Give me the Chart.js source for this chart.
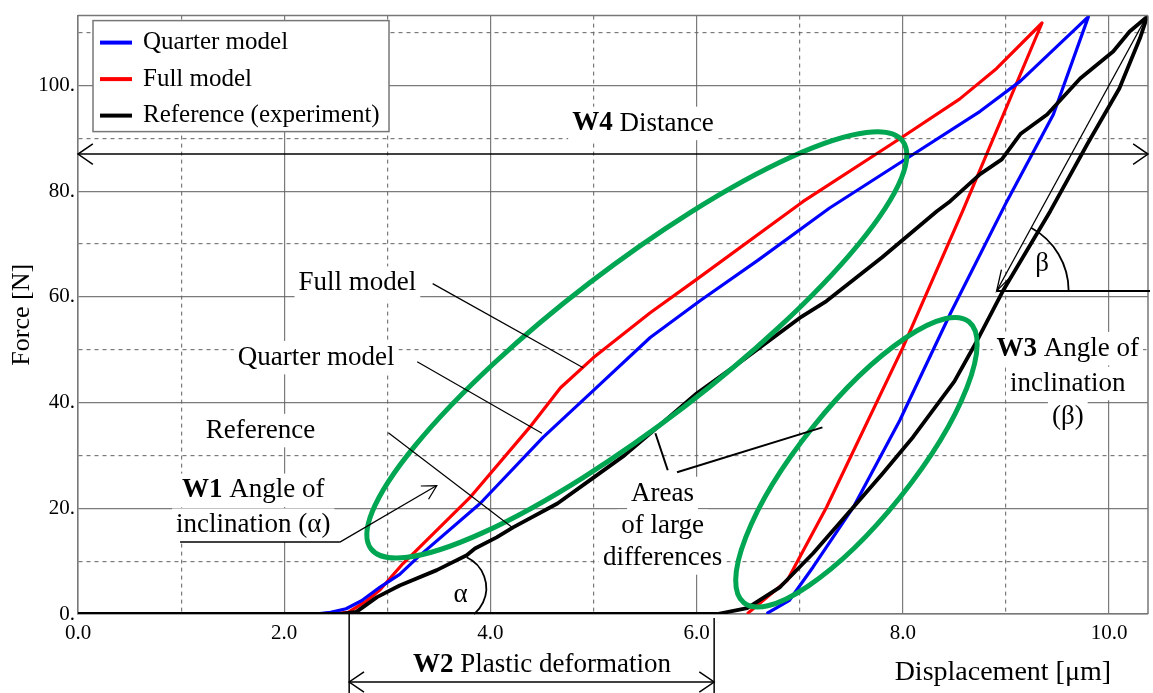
<!DOCTYPE html>
<html>
<head>
<meta charset="utf-8">
<script src="https://cdn.jsdelivr.net/npm/chart.js@4.4.1/dist/chart.umd.min.js"></script>
<style>
  html, body { margin: 0; padding: 0; background: #fff; }
</style>
</head>
<body>
<canvas id="chart" width="1153" height="693"></canvas>
<script>
// series names (legend order)
const seriesNames = ['Quarter model', 'Full model', 'Reference (experiment)'];

// Quarter model: loading then unloading
const quarterX = [0, 2.3, 2.45, 2.6, 2.75, 2.93, 3.12, 3.3, 3.9, 4.51, 5.0, 5.55, 6.03, 6.6, 7.29, 8.0, 8.75, 9.14, 9.8,
                  9.46, 9.01, 8.46, 7.97, 7.52, 7.13, 6.9, 6.69];
const quarterY = [0, 0, 0.3, 1.0, 2.5, 5.1, 7.5, 10.8, 20.9, 33.4, 42.3, 52.3, 59.2, 67.0, 76.8, 85.7, 95.1, 100.8, 113.0,
                  94.5, 78.1, 56.8, 36.6, 20.2, 8.9, 2.6, 0.2];

// Full model
const fullX = [0, 2.45, 2.62, 2.8, 2.93, 3.15, 3.8, 4.38, 4.68, 5.0, 5.55, 6.0, 7.03, 7.97, 8.55, 8.91, 9.35,
               8.58, 8.0, 7.26, 6.88, 6.5];
const fullY = [0, 0, 0.3, 2.5, 4.6, 9.5, 22.0, 35.3, 42.8, 48.5, 57.0, 63.3, 78.0, 89.9, 97.4, 103.2, 111.8,
               76.2, 50.4, 20.2, 6.4, 0.2];

// Reference (experiment)
const refX = [0, 2.55, 2.7, 2.9, 3.12, 3.48, 3.77, 3.85, 4.06, 4.22, 4.65, 5.0, 5.3, 5.6, 6.0, 6.35, 7.0, 7.26, 7.8,
              8.33, 8.46, 8.75, 8.96, 9.14, 9.4, 9.72, 10.04, 10.2, 10.37,
              10.3, 10.1, 9.79, 9.43, 8.97, 8.72, 8.5, 8.1, 7.8, 7.52, 7.13, 6.81, 6.49, 6.2, 2.6];
const refY = [0, 0, 0.4, 3.2, 5.4, 8.3, 11.1, 12.4, 14.5, 16.4, 20.9, 25.8, 30.0, 35.0, 41.7, 46.6, 56.0, 59.2, 67.5,
              76.2, 78.1, 83.2, 86.0, 90.8, 94.5, 101.3, 106.4, 110.2, 113.0,
              108.9, 99.4, 88.9, 76.2, 61.1, 51.7, 44.0, 33.5, 26.5, 20.2, 11.5, 5.1, 1.1, 0, 0];

const xTickValues = [0, 2, 4, 6, 8, 10];
const yTickValues = [0, 20, 40, 60, 80, 100];

const seriesColors = ['#0000ff', '#ff0000', '#000000'];
const FAMILY = '"Liberation Serif", "Times New Roman", serif';
const GREEN = '#00a651';

function pts(xs, ys) { return xs.map((x, i) => ({ x: x, y: ys[i] })); }
function font(size, bold) { return (bold ? 'bold ' : '') + size + 'px ' + FAMILY; }

function richWidth(ctx, parts, size) {
    let w = 0;
    parts.forEach(p => { ctx.font = font(size, p.b); w += ctx.measureText(p.t).width; });
    return w;
}
function drawRich(ctx, parts, cx, cy, size, bg) {
    const w = richWidth(ctx, parts, size);
    if (bg) {
        ctx.fillStyle = '#fff';
        ctx.fillRect(cx - w / 2 - 4, cy - size * 0.62, w + 8, size * 1.24);
    }
    let x = cx - w / 2;
    ctx.fillStyle = '#000';
    ctx.textBaseline = 'middle';
    ctx.textAlign = 'left';
    parts.forEach(p => {
        ctx.font = font(size, p.b);
        ctx.fillText(p.t, x, cy);
        x += ctx.measureText(p.t).width;
    });
}
function line(ctx, x1, y1, x2, y2, w) {
    ctx.lineWidth = w || 1.2;
    ctx.beginPath();
    ctx.moveTo(x1, y1);
    ctx.lineTo(x2, y2);
    ctx.stroke();
}
function arrowHead(ctx, tx, ty, fx, fy, len, spread) {
    const a = Math.atan2(ty - fy, tx - fx);
    len = len || 16; spread = spread || 0.45;
    ctx.beginPath();
    ctx.moveTo(tx - len * Math.cos(a - spread), ty - len * Math.sin(a - spread));
    ctx.lineTo(tx, ty);
    ctx.lineTo(tx - len * Math.cos(a + spread), ty - len * Math.sin(a + spread));
    ctx.stroke();
}

// labels (white background behind text) - drawn under the curves
const labelsPlugin = {
    id: 'labels',
    beforeDatasetsDraw(chart) {
        const { ctx, chartArea: ca, scales: { x: xs, y: ys } } = chart;
        const X = v => xs.getPixelForValue(v);
        const Y = v => ys.getPixelForValue(v);
        ctx.save();
        const S = 27;
        drawRich(ctx, [{ t: 'W4', b: true }, { t: ' Distance' }], X(5.48), Y(92.8), S, true);
        drawRich(ctx, [{ t: 'Full model' }], X(2.71), Y(62.6), S, true);
        drawRich(ctx, [{ t: 'Quarter model' }], X(2.31), Y(48.5), S, true);
        drawRich(ctx, [{ t: 'Reference' }], X(1.77), Y(34.7), S, true);
        drawRich(ctx, [{ t: 'W1', b: true }, { t: ' Angle of' }], X(1.70), Y(23.4), S, true);
        drawRich(ctx, [{ t: 'inclination (α)' }], X(1.70), Y(16.8), S, true);
        drawRich(ctx, [{ t: 'Areas' }], X(5.67), Y(22.8), S, true);
        drawRich(ctx, [{ t: 'of large' }], X(5.67), Y(16.6), S, true);
        drawRich(ctx, [{ t: 'differences' }], X(5.67), Y(10.6), S, true);
        drawRich(ctx, [{ t: 'W3', b: true }, { t: ' Angle of' }], X(9.6), Y(50.2), S, true);
        drawRich(ctx, [{ t: 'inclination' }], X(9.6), Y(43.6), S, true);
        drawRich(ctx, [{ t: '(β)' }], X(9.6), Y(37.2), S, true);
        drawRich(ctx, [{ t: 'β' }], X(9.35), Y(66.2), S, true);
        drawRich(ctx, [{ t: 'α' }], X(3.71), Y(3.6), S, false);
        ctx.restore();
    },
    afterDatasetsDraw(chart) {
        const { ctx, chartArea: ca, scales: { x: xs, y: ys } } = chart;
        const X = v => xs.getPixelForValue(v);
        const Y = v => ys.getPixelForValue(v);
        ctx.save();

        // plot frame top/right
        ctx.strokeStyle = '#777';
        line(ctx, ca.left, ca.top, ca.right, ca.top, 1.5);
        line(ctx, ca.right, ca.top, ca.right, ca.bottom, 1.5);

        // green ellipses
        ctx.strokeStyle = GREEN;
        ctx.lineWidth = 5;
        ctx.beginPath();
        ctx.ellipse(X(5.42), Y(50.9), 335, 78, -37.5 * Math.PI / 180, 0, Math.PI * 2);
        ctx.stroke();
        ctx.beginPath();
        ctx.ellipse(X(7.55), Y(28.7), 180, 56, -51.3 * Math.PI / 180, 0, Math.PI * 2);
        ctx.stroke();

        ctx.strokeStyle = '#000';
        // W4 double arrow
        const yw4 = Y(87);
        line(ctx, ca.left, yw4, ca.right, yw4, 1.5);
        arrowHead(ctx, ca.left, yw4, ca.left + 50, yw4, 18, 0.6);
        arrowHead(ctx, ca.right, yw4, ca.right - 50, yw4, 18, 0.6);

        // W2 plastic deformation
        const x1 = X(2.63), x2 = X(6.17), yw2 = ca.bottom + 68;
        line(ctx, x1, ca.bottom, x1, chart.height, 1.5);
        line(ctx, x2, ca.bottom + 4, x2, chart.height, 1.5);
        line(ctx, x1, yw2, x2, yw2, 1.5);
        arrowHead(ctx, x1, yw2, x1 + 50, yw2, 18, 0.6);
        arrowHead(ctx, x2, yw2, x2 - 50, yw2, 18, 0.6);

        // leaders
        line(ctx, X(3.44), Y(62.5), X(4.90), Y(46.6), 1.2);
        line(ctx, X(3.29), Y(47.7), X(4.50), Y(34.2), 1.2);
        line(ctx, X(3.01), Y(34.3), X(4.21), Y(16.4), 1.2);
        line(ctx, X(0.99), Y(13.6), X(2.54), Y(13.6), 1.5);
        line(ctx, X(2.54), Y(13.6), X(3.48), Y(24.3), 1.2);
        arrowHead(ctx, X(3.48), Y(24.3), X(2.54), Y(13.6), 16, 0.5);
        line(ctx, X(5.72), Y(27.2), X(5.60), Y(34.2), 2);
        line(ctx, X(5.81), Y(26.8), X(7.22), Y(35.3), 2);

        // alpha arc
        ctx.lineWidth = 1.8;
        ctx.beginPath();
        ctx.arc(X(3.63), Y(4.9), 34, -65 * Math.PI / 180, 50 * Math.PI / 180);
        ctx.stroke();

        // beta: arrow, horizontal, arc
        const bx = X(8.91), by = Y(61.1);
        line(ctx, X(10.35), Y(112.5), bx, by, 1.3);
        arrowHead(ctx, bx, by, X(10.35), Y(112.5), 22, 0.28);
        line(ctx, bx, by, ca.right + 2, by, 2);
        ctx.lineWidth = 1.8;
        ctx.beginPath();
        ctx.arc(bx, by, 72, -61.4 * Math.PI / 180, 0);
        ctx.stroke();

        // legend
        const lx = ca.left + 15, ly = ca.top + 5;
        ctx.fillStyle = '#fff';
        ctx.fillRect(lx, ly, 296, 111);
        ctx.strokeStyle = '#777';
        ctx.lineWidth = 1.5;
        ctx.strokeRect(lx, ly, 296, 111);
        seriesNames.forEach((name, i) => {
            const yy = ly + 22 + i * 36.5;
            ctx.strokeStyle = seriesColors[i];
            line(ctx, lx + 7, yy, lx + 39, yy, 4);
            ctx.fillStyle = '#000';
            ctx.font = font(25);
            ctx.textBaseline = 'middle';
            ctx.textAlign = 'left';
            ctx.fillText(name, lx + 50, yy);
        });

        // axis titles
        ctx.fillStyle = '#000';
        ctx.font = font(28);
        ctx.textAlign = 'center';
        ctx.textBaseline = 'middle';
        ctx.fillText('Displacement [μm]', X(8.97), ca.bottom + 59);
        drawRich(ctx, [{ t: 'W2', b: true }, { t: ' Plastic deformation' }], X(4.5), ca.bottom + 51, 27, false);
        ctx.save();
        ctx.translate(22, (ca.top + ca.bottom) / 2);
        ctx.rotate(-Math.PI / 2);
        ctx.font = font(26);
        ctx.textAlign = 'center';
        ctx.fillText('Force [N]', 0, 0);
        ctx.restore();

        ctx.restore();
    }
};

const gridColor = 'rgba(100,100,100,0.85)';

new Chart(document.getElementById('chart'), {
    type: 'scatter',
    data: {
        datasets: [
            { label: seriesNames[0], data: pts(quarterX, quarterY), borderColor: seriesColors[0], borderWidth: 3.2, order: 1 },
            { label: seriesNames[1], data: pts(fullX, fullY), borderColor: seriesColors[1], borderWidth: 3.2, order: 2 },
            { label: seriesNames[2], data: pts(refX, refY), borderColor: seriesColors[2], borderWidth: 3.8, order: 0 }
        ]
    },
    options: {
        responsive: false,
        animation: false,
        showLine: true,
        layout: { padding: { left: 0, right: 5, top: 14, bottom: 0 } },
        plugins: { legend: { display: false }, tooltip: { enabled: false } },
        elements: {
            point: { radius: 0, hoverRadius: 0 },
            line: { tension: 0, borderJoinStyle: 'round', borderCapStyle: 'round', fill: false }
        },
        scales: {
            x: {
                type: 'linear', min: 0, max: 10.378,
                afterFit: s => { s.height = 79; },
                ticks: {
                    stepSize: 1, includeBounds: false, autoSkip: false, maxRotation: 0, padding: 7,
                    color: '#000', font: { family: FAMILY, size: 21 },
                    callback: v => xTickValues.includes(v) ? v.toFixed(1) : ''
                },
                grid: { color: gridColor, lineWidth: 1.2, drawTicks: false },
                border: { color: '#777', width: 1.5, dash: c => (c.tick && c.tick.value % 2 !== 0) ? [4, 4] : [] }
            },
            y: {
                type: 'linear', min: 0, max: 113.2,
                afterFit: s => { s.width = 78; },
                ticks: {
                    stepSize: 10, includeBounds: false, autoSkip: false, padding: 3,
                    color: '#000', font: { family: FAMILY, size: 21 },
                    callback: v => yTickValues.includes(v) ? v + '.' : ''
                },
                grid: { color: gridColor, lineWidth: 1.2, drawTicks: false },
                border: { color: '#777', width: 1.5, dash: c => (c.tick && c.tick.value % 20 !== 0) ? [4, 4] : [] }
            }
        }
    },
    plugins: [labelsPlugin]
});
</script>
</body>
</html>
